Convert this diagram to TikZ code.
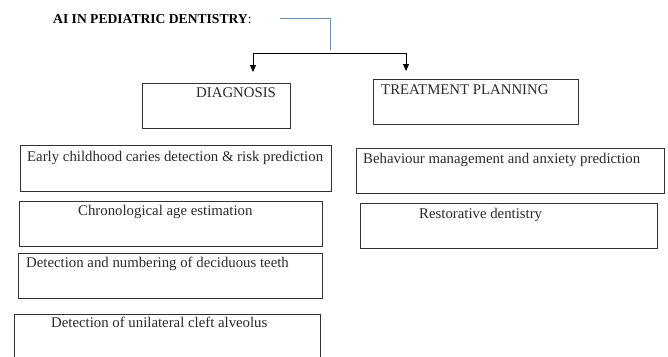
\documentclass[tikz,border=0pt]{standalone}
\usepackage{fontspec}
\setmainfont{Liberation Serif}
\usetikzlibrary{arrows.meta}
\definecolor{boxline}{HTML}{333333}
\definecolor{txtcol}{HTML}{2A2A2A}
\definecolor{bluel}{HTML}{7090B0}
\tikzset{
  box/.style={draw=boxline, line width=1.1pt, inner sep=0pt, anchor=north west},
  txt/.style={anchor=base west, inner sep=0pt, text=txtcol, font=\fontsize{14.8}{17}\selectfont},
  ttl/.style={anchor=base west, inner sep=0pt, text=black, font=\fontsize{13.6}{16}\selectfont},
  conn/.style={line width=1pt, black},
  arr/.style={conn, -{Triangle[length=7pt,width=6pt]}},
}
\begin{document}
\begin{tikzpicture}[x=1pt,y=-1pt]
\useasboundingbox (0,0) rectangle (668,356);
\clip (0,0) rectangle (668,356);
% title
\node[ttl] (title) at (53,23) {\textbf{AI IN PEDIATRIC DENTISTRY}:};
% boxes
\node[box, minimum width=148pt, minimum height=45pt] (diag) at (142,83) {};
\node[box, minimum width=205pt, minimum height=45pt] (treat) at (373,79) {};
\node[box, minimum width=311pt, minimum height=46pt] (b1) at (20,145) {};
\node[box, minimum width=303pt, minimum height=45pt] (b2) at (19,201) {};
\node[box, minimum width=304pt, minimum height=45pt] (b3) at (18,253) {};
\node[box, minimum width=306pt, minimum height=60pt] (b4) at (14,314) {};
\node[box, minimum width=308pt, minimum height=45pt] (b5) at (356,148) {};
\node[box, minimum width=297pt, minimum height=45pt] (b6) at (360,203) {};
% texts
\node[txt] (tdiag) at (196,97) {DIAGNOSIS};
\node[txt] (ttreat) at (381,94) {TREATMENT PLANNING};
\node[txt] (t1) at (27,161) {Early childhood caries detection \& risk prediction};
\node[txt] (t2) at (78,215) {Chronological age estimation};
\node[txt] (t3) at (26,267) {Detection and numbering of deciduous teeth};
\node[txt] (t4) at (51,327) {Detection of unilateral cleft alveolus};
\node[txt] (t5) at (363,163) {Behaviour management and anxiety prediction};
\node[txt] (t6) at (419,218) {Restorative dentistry};
% connectors
\coordinate (c1) at (280,18);
\coordinate (c2) at (330,18);
\coordinate (c3) at (330,50);
\coordinate (jl) at (253,53);
\coordinate (jr) at (406,53);
\coordinate (al) at (253,72);
\coordinate (ar) at (406,71);
\draw[bluel, line width=1pt] (c1) -- (c2) -- (c3);
\draw[conn] (jl) -- (jr);
\draw[arr] (jl) -- (al);
\draw[arr] (jr) -- (ar);
\end{tikzpicture}
\end{document}
